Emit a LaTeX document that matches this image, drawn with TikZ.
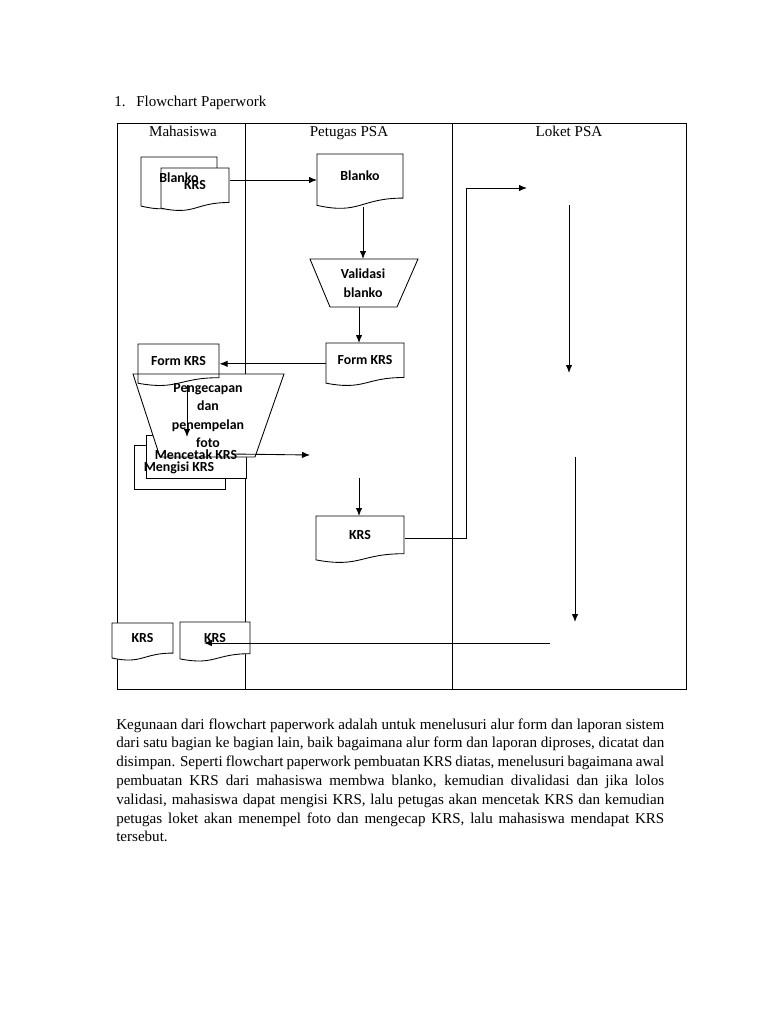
\documentclass[tikz,border=0pt]{standalone}
\usepackage{fontspec}
\setmainfont{Liberation Serif}
\newfontfamily\lblf{Carlito}
\usetikzlibrary{arrows.meta}
\tikzset{
  shp/.style={draw=black, line width=0.65pt},
  lbl/.style={font=\lblf\bfseries\fontsize{10.4}{13.8}\selectfont, inner sep=0pt, align=center},
  hdr/.style={font=\fontsize{11.3}{13.6}\selectfont, inner sep=0pt},
  arr/.style={line width=0.65pt, -{Latex[length=6pt,width=4.8pt]}},
  ln/.style={line width=0.65pt},
}
% document outline: [opts] x1 y1 x2 y2  (pixel units)
\newcommand\docpath[5][fill=white]{%
  \path[shp,#1] (#2,#3) -- (#4,#3) -- (#4,{#3+0.802*(#5-#3)})
    .. controls ({(#2+#4)/2},{#3+0.802*(#5-#3)}) and ({(#2+#4)/2},{#3+1.108*(#5-#3)})
    .. (#2,{#3+0.934*(#5-#3)}) -- cycle;}
% document node: name x1 y1 x2 y2 label
\newcommand\docnode[6]{%
  \node[inner sep=0pt, minimum width={(#4-#2)*0.75pt}, minimum height={0.955*(#5-#3)*0.75pt}, anchor=north west] (#1) at (#2,#3) {};
  \node[lbl] (#1-t) at ({(#2+#4)/2},{#3+0.4*(#5-#3)}) {#6};}
\begin{document}
\begin{tikzpicture}[x=0.75pt,y=-0.75pt]
\useasboundingbox[fill=white] (0,0) rectangle (768,1024);
% title
\node[hdr, anchor=base west] (num) at (114,107) {1.};
\node[hdr, anchor=base west] (title) at (136,107) {Flowchart Paperwork};
% swimlanes
\draw[ln] (117,123) rectangle (686,689);
\draw[ln] (245,123) -- (245,689);
\draw[ln] (452,123) -- (452,689);
\node[hdr, anchor=base] (h1) at (183,137) {Mahasiswa};
\node[hdr, anchor=base] (h2) at (349,137) {Petugas PSA};
\node[hdr, anchor=base] (h3) at (569,137) {Loket PSA};
% document outlines
\docpath{141}{157}{217}{209.5}
\docpath{161}{168}{229}{211}
\docpath{317}{154}{403}{209}
\docpath{326}{343}{404}{386}
\docpath{316}{516}{404}{563}
\docpath{112}{623}{173}{660.5}
\docpath{180}{622}{250}{661.5}
% validasi trapezoid
\path[shp, fill=white] (310,259) -- (418,259) -- (397,307) -- (330,307) -- cycle;
\coordinate (valn) at (363,259);
\coordinate (vals) at (359,307);
\node[lbl] (val) at (363,283) {Validasi\\blanko};
% mengisi / mencetak boxes
\node[shp, fill=white, minimum width=68.25pt, minimum height=33pt, inner sep=0pt] (mk1) at (179.5,467) {};
\node[shp, fill=white, minimum width=75pt, minimum height=32.25pt, inner sep=0pt] (mk2) at (196,456.5) {};
% pengecapan trapezoid
\path[shp, fill=white] (133,374) -- (284,374) -- (255,457) -- (160,457) -- cycle;
\docpath[fill=none]{138}{344}{219}{386}
% named nodes and labels
\docnode{bl1}{141}{157}{217}{209.5}{Blanko}
\docnode{kr1}{161}{168}{229}{211}{KRS}
\docnode{bl2}{317}{154}{403}{209}{Blanko}
\docnode{fk2}{326}{343}{404}{386}{Form KRS}
\docnode{fk1}{138}{344}{219}{386}{Form KRS}
\docnode{kr3}{316}{516}{404}{563}{KRS}
\docnode{kr4}{112}{623}{173}{660.5}{KRS}
\docnode{kr5}{180}{622}{250}{661.5}{KRS}
\node[lbl] (pk) at (208,415.5) {Pengecapan\\dan\\penempelan\\foto};
\node[lbl] (mk2-t) at (196,455) {Mencetak KRS};
\node[lbl] (mk1-t) at (179,468) {Mengisi KRS};
% free ends
\coordinate (mk) at (187,437);
\coordinate (e1) at (232,454);
\coordinate (e2) at (310,455);
\coordinate (e3) at (359,478);
\coordinate (e4) at (527,188);
\coordinate (e5) at (569,205);
\coordinate (e6) at (569,373);
\coordinate (e7) at (575,457);
\coordinate (e8) at (575,622);
\coordinate (e9) at (550,643);
% connectors
\draw[arr] (kr1.east |- 0,180) -- (bl2.west |- 0,180);
\draw[arr] (bl2.south -| valn) -- (valn);
\draw[arr] (vals) -- (vals |- fk2.north);
\draw[arr] (fk2.west) -- (fk2.west -| fk1.east);
\draw[arr] (fk1.south -| mk) -- (mk);
\draw[arr] (e1) -- (e2);
\draw[arr] (e3) -- (e3 |- kr3.north);
\draw[arr] (kr3.east) -- ++(62,0) |- (e4);
\draw[arr] (e5) -- (e6);
\draw[arr] (e7) -- (e8);
\draw[arr] (e9) -- (e9 -| kr5-t.west);
% body text
\node[anchor=base west, inner sep=0pt, text width=411pt, align=justify,
      font=\fontsize{11.3}{14.1}\selectfont] (body) at (116,729)
{Kegunaan dari flowchart paperwork adalah untuk menelusuri alur form dan laporan sistem\linebreak
dari satu bagian ke bagian lain, baik bagaimana alur form dan laporan diproses, dicatat dan\linebreak
disimpan. Seperti flowchart paperwork pembuatan KRS diatas, menelusuri bagaimana awal\linebreak
pembuatan KRS dari mahasiswa membwa blanko, kemudian divalidasi dan jika lolos\linebreak
validasi, mahasiswa dapat mengisi KRS, lalu petugas akan mencetak KRS dan kemudian\linebreak
petugas loket akan menempel foto dan mengecap KRS, lalu mahasiswa mendapat KRS\linebreak
tersebut.};
\end{tikzpicture}
\end{document}
